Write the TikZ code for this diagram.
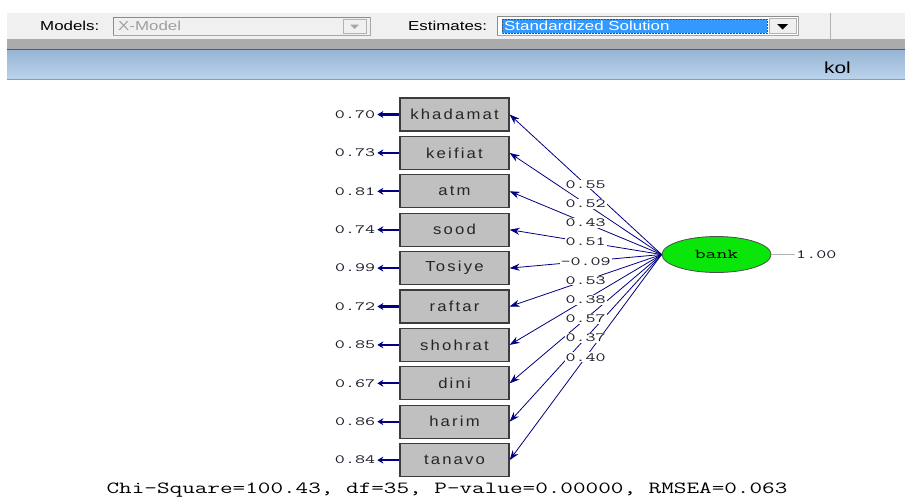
\documentclass[tikz,border=0pt]{standalone}
\usepackage{fontspec}
\usepackage{graphicx}
\usetikzlibrary{arrows.meta,shapes.geometric,calc}
\newfontfamily\uifont[FakeStretch=1.3]{Liberation Sans}
\newfontfamily\boxfont[FakeStretch=1.15,LetterSpace=15]{Liberation Sans}
\newcommand\labfont{\ttfamily\fontsize{12.5}{14}\selectfont}
\newcommand\widelab[1]{\scalebox{1.56}[1]{#1}}
\newcommand\chitext{\ttfamily\fontsize{17}{19}\selectfont}
\definecolor{tbgrey}{RGB}{240,240,240}
\definecolor{bandgrey}{RGB}{171,171,171}
\definecolor{bartop}{RGB}{150,180,212}
\definecolor{barbot}{RGB}{188,212,236}
\definecolor{boxfill}{RGB}{192,192,192}
\definecolor{boxline}{RGB}{60,60,60}
\definecolor{pathblue}{RGB}{0,0,128}
\definecolor{selblue}{RGB}{51,153,255}
\definecolor{bankgreen}{RGB}{10,230,10}
\definecolor{labtext}{RGB}{25,25,40}
\tikzset{
  varbox/.style={draw=boxline, line width=1.3pt, fill=boxfill, minimum width=109pt,
    minimum height=33pt, inner sep=0pt, font=\boxfont\fontsize{14.5}{16}\selectfont, text=black!85},
  loadpath/.style={draw=pathblue, line width=0.8pt, -{Stealth[length=10pt,width=7pt]}},
  errpath/.style={draw=pathblue, line width=2.2pt, -{Stealth[length=6pt,width=7pt]}},
  numlab/.style={font=\labfont, text=labtext, inner sep=1pt},
  loadlab/.style={numlab, fill=white},
  uitext/.style={font=\uifont\fontsize{13}{15}\selectfont, inner sep=0pt}
}
\begin{document}
\begin{tikzpicture}[x=1pt,y=-1pt]
\useasboundingbox (0,0) rectangle (905,498);
\fill[white] (0,0) rectangle (905,498);
% toolbar
\fill[tbgrey] (7,13) rectangle (905,39);
\node[uitext, anchor=west] (models) at (40,25.5) {Models:};
\draw[gray!70, fill=tbgrey] (113,17) rectangle (370,35);
\draw[gray!90, line width=0.8pt] (113.5,35) -- (113.5,17.5) -- (370,17.5);
\node[uitext, anchor=west, text=gray!75] (xmodel) at (118,26) {X-Model};
\draw[gray!60, fill=tbgrey] (343,19) rectangle (366,33);
\fill[gray!70] (350,24.5) -- (359,24.5) -- (354.5,29) -- cycle;
\node[uitext, anchor=west] (estimates) at (408,25.5) {Estimates:};
\draw[gray!70, fill=white] (497,16) rectangle (798,35);
\draw[gray!90, line width=0.8pt] (497.5,35) -- (497.5,16.5) -- (798,16.5);
\fill[selblue] (502,19) rectangle (767,33);
\draw[black!70, densely dotted, line width=0.5pt] (502,19) rectangle (767,33);
\node[uitext, anchor=west, text=white] (stsol) at (504,26) {Standardized Solution};
\draw[gray!60, fill=tbgrey] (769,18.5) rectangle (796,33.5);
\fill[black] (777,24) -- (788,24) -- (782.5,29.5) -- cycle;
\draw[gray!60, line width=0.8pt] (830,13) -- (830,39);
% grey band and title bar
\fill[bandgrey] (7,39) rectangle (905,50);
\draw[black!65, line width=1pt] (7,49.5) -- (905,49.5);
\shade[top color=bartop, bottom color=barbot] (7,50) rectangle (905,79);
\draw[gray!80, line width=1pt] (7,79.5) -- (905,79.5);
\node[font=\uifont\fontsize{16}{18}\selectfont, anchor=west, inner sep=0pt] (kol) at (824,68) {kol};
% latent variable
\node[ellipse, draw=black!70, line width=0.8pt, fill=bankgreen, minimum width=109pt,
  minimum height=36pt, inner sep=0pt, font=\ttfamily\fontsize{13.5}{15}\selectfont] (bank) at (716.5,254.5) {\widelab{bank}};
\coordinate (vend) at (795,254.5);
\draw[gray!60, line width=0.8pt] (bank.east) -- (vend);
\node[numlab, anchor=west] (var) at (vend) {\widelab{1.00}};
% observed variables
\foreach \i/\n/\t/\e in {0/kh/khadamat/0.70, 1/ke/keifiat/0.73, 2/at/atm/0.81, 3/so/sood/0.74,
  4/to/Tosiye/0.99, 5/ra/raftar/0.72, 6/sh/shohrat/0.85, 7/di/dini/0.67, 8/ha/harim/0.86, 9/ta/tanavo/0.84}{
  \node[varbox] (\n) at (454.5,114.5+38.4*\i) {\t};
  \coordinate (\n e) at ($(\n.west)+(-22,0)$);
  \draw[errpath] (\n.west) -- (\n e);
  \node[numlab, anchor=east, inner sep=2pt] (\n lab) at (\n e) {\widelab{\e}};
}
\foreach \n in {kh,ke,at,so,to,ra,sh,di,ha,ta}{
  \draw[loadpath] (bank.west) -- (\n.east);
}
\foreach \n/\l in {kh/0.55, ke/0.52, at/0.43, so/0.51, to/-0.09, ra/0.53, sh/0.38, di/0.57, ha/0.37, ta/0.40}{
  \path (bank.west) -- node[loadlab] (\n load) {\widelab{\l}} (\n.east);
}
\node[font=\chitext, inner sep=0pt] (chi) at (447,490) {\scalebox{1.44}[1]{Chi-Square=100.43, df=35, P-value=0.00000, RMSEA=0.063}};
\end{tikzpicture}
\end{document}
